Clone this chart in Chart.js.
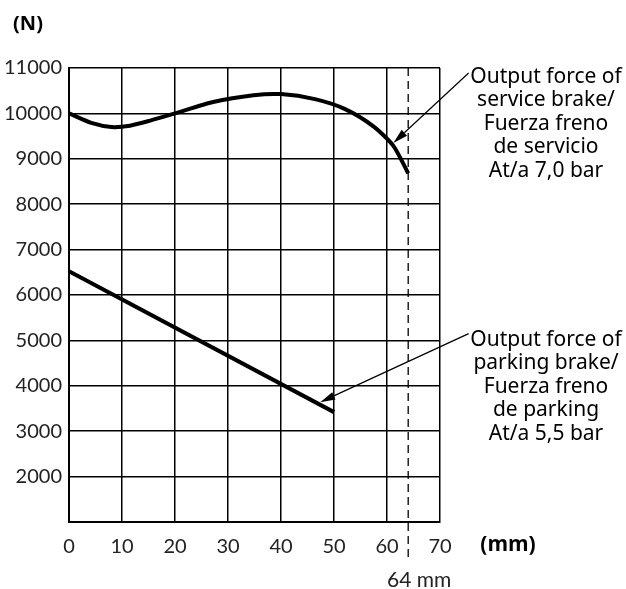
<!DOCTYPE html>
<html>
<head>
<meta charset="utf-8">
<script src="https://cdn.jsdelivr.net/npm/chart.js@4"></script>
<style>
  body { margin: 0; background: #fff; }
  #wrap { width: 626px; height: 589px; }
</style>
</head>
<body>
<div id="wrap"><canvas id="myChart" width="626" height="589"></canvas></div>
<script>
// stroke (mm) vs output force (N)
var serviceMm = [0, 4.2, 8, 11.5, 15.3, 20, 27.2, 34.8, 40, 46.4, 52.1, 57.5, 61.2, 64];
var serviceN = [10000, 9790, 9700, 9730, 9840, 10000, 10250, 10400, 10425, 10315, 10095, 9710, 9285, 8680];
var parkingMm = [0, 50];
var parkingN = [6525, 3420];

var xMin = 0, xMax = 70, xStep = 10;
var yMin = 1000, yMax = 11000, yStep = 1000;
var strokeLimit = 64;
var strokeLabel = "64 mm";
var yUnit = "(N)";
var xUnit = "(mm)";

var serviceText = ["Output force of", "service brake/", "Fuerza freno", "de servicio", "At/a 7,0 bar"];
var parkingText = ["Output force of", "parking brake/", "Fuerza freno", "de parking", "At/a 5,5 bar"];
// arrow from label (start) to the curve (tip), in mm / N
var serviceArrow = [75.4, 10890, 61.2, 9350];
var parkingArrow = [75.4, 5150, 47.4, 3640];

function toPts(xs, ys) {
  var pts = [];
  for (var i = 0; i < xs.length; i++) pts.push({x: xs[i], y: ys[i]});
  return pts;
}

function arrow(ctx, x1, y1, x2, y2) {
  var ang = Math.atan2(y2 - y1, x2 - x1);
  var len = 15, half = 4;
  var bx = x2 - len * Math.cos(ang), by = y2 - len * Math.sin(ang);
  ctx.beginPath();
  ctx.moveTo(x1, y1);
  ctx.lineTo(bx, by);
  ctx.lineWidth = 1.2;
  ctx.stroke();
  ctx.beginPath();
  ctx.moveTo(x2, y2);
  ctx.lineTo(bx + half * Math.sin(ang), by - half * Math.cos(ang));
  ctx.lineTo(bx - half * Math.sin(ang), by + half * Math.cos(ang));
  ctx.closePath();
  ctx.fill();
}

var extras = {
  id: "extras",
  afterDraw: function(chart) {
    var ctx = chart.ctx;
    var xs = chart.scales.x, ys = chart.scales.y;
    ctx.save();
    ctx.strokeStyle = "#000";
    ctx.fillStyle = "#000";

    // dashed 64 mm line
    var px = xs.getPixelForValue(strokeLimit);
    ctx.setLineDash([8, 5]);
    ctx.lineWidth = 1.3;
    ctx.beginPath();
    ctx.moveTo(px, ys.top);
    ctx.lineTo(px, ys.bottom + 40);
    ctx.stroke();
    ctx.setLineDash([]);

    ctx.fillStyle = "#222";
    ctx.font = "21px Lato";
    ctx.textAlign = "center";
    ctx.textBaseline = "middle";
    ctx.fillText(strokeLabel, px + 11, 580);

    ctx.fillStyle = "#000";
    ctx.font = "bold 20px 'Open Sans'";
    ctx.fillText(yUnit, 28, 24);
    ctx.font = "bold 21px 'Open Sans'";
    ctx.fillText(xUnit, 508, 545);

    // annotations
    function note(arr, lines, y0) {
      arrow(ctx, xs.getPixelForValue(arr[0]), ys.getPixelForValue(arr[1]),
        xs.getPixelForValue(arr[2]), ys.getPixelForValue(arr[3]));
      ctx.font = "21px 'Noto Sans'";
      ctx.textAlign = "center";
      for (var i = 0; i < lines.length; i++) {
        ctx.fillText(lines[i], 546, y0 + i * 23.5);
      }
    }
    note(serviceArrow, serviceText, 77);
    note(parkingArrow, parkingText, 340);
    ctx.restore();
  }
};

new Chart("myChart", {
  type: "scatter",
  data: {
    datasets: [{
      data: toPts(serviceMm, serviceN),
      showLine: true,
      borderColor: "#000",
      borderWidth: 4,
      pointRadius: 0,
      tension: 0.25
    }, {
      data: toPts(parkingMm, parkingN),
      showLine: true,
      borderColor: "#000",
      borderWidth: 4,
      pointRadius: 0
    }]
  },
  options: {
    responsive: false,
    animation: false,
    layout: { padding: { left: 0, top: 68, right: 186, bottom: 0 } },
    plugins: { legend: { display: false }, tooltip: { enabled: false } },
    scales: {
      x: {
        min: xMin, max: xMax,
        ticks: { stepSize: xStep, padding: 13, color: "#222", font: { family: "Lato", size: 20 } },
        grid: { color: "#000", lineWidth: 1.5, drawTicks: false },
        border: { color: "#000", width: 2 },
        afterFit: function(s) { s.height = 67; }
      },
      y: {
        min: yMin, max: yMax,
        ticks: {
          stepSize: yStep, padding: 7, color: "#222", font: { family: "Lato", size: 20 },
          callback: function(v) { return v === yMin ? "" : v; }
        },
        grid: { color: "#000", lineWidth: 1.5, drawTicks: false },
        border: { color: "#000", width: 2 },
        afterFit: function(s) { s.width = 69; }
      }
    }
  },
  plugins: [extras]
});
</script>
</body>
</html>
